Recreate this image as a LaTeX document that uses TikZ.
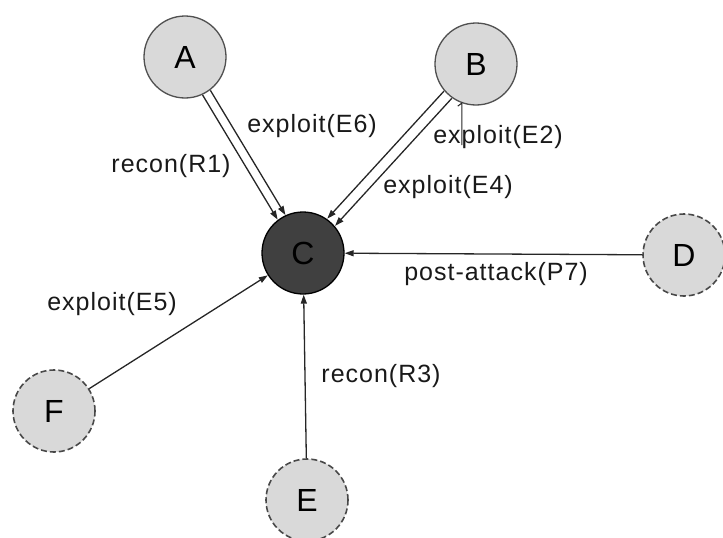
\documentclass[tikz,border=0pt]{standalone}
\usepackage{fontspec}
\setmainfont{Liberation Sans}
\newfontfamily\lblfont{Liberation Sans}[LetterSpace=4]
\usetikzlibrary{arrows.meta}
\definecolor{hostfill}{HTML}{D9D9D9}
\definecolor{hostline}{HTML}{505050}
\definecolor{targetfill}{HTML}{404040}
\definecolor{edgeline}{HTML}{262626}
\begin{document}
\begin{tikzpicture}[x=1pt,y=-1pt,host/.style={shape=circle,draw=hostline,fill=hostfill,line width=1.3pt,minimum size=82pt,inner sep=0pt,font=\fontsize{32}{36}\selectfont},hostU/.style={host,draw=hostline!90!black,line width=1.6pt,dash pattern=on 6pt off 3pt},hostT/.style={host,fill=targetfill,draw=black},attack/.style={draw=edgeline,line width=1.3pt,-{Triangle[length=9pt,width=6pt]}},lbl/.style={anchor=base,inner sep=0pt,text=black!90,font=\lblfont\fontsize{25}{30}\selectfont}]
\useasboundingbox (0,0) rectangle (723,538);

\node[host] (A) at (185,57) {A};
\node[host] (B) at (476,64) {B};
\node[hostT] (C) at (303,253) {C};
\node[hostU] (D) at (684,255) {D};
\node[hostU] (E) at (307,500) {E};
\node[hostU] (F) at (54,411) {F};

% double edges from A and B
\draw[attack,transform canvas={shift={(-3.9,2.3)}}] (A) -- (C);
\draw[attack,transform canvas={shift={(3.9,-2.3)}}] (A) -- (C);
\draw[attack,transform canvas={shift={(-3.9,-3.6)}}] (B) -- (C);
\draw[attack,transform canvas={shift={(3.9,3.6)}}] (B) -- (C);

\draw[attack] (D) -- (C);
\draw[attack] (E) -- (C);
\draw[attack] (F) -- (C);

\draw[edgeline,line width=1pt] ([shift={(-4,3)}]B.250) -- (B.250) -- ++(0,42);

\node[lbl] (R1) at (171,172) {recon(R1)};
\node[lbl] (E6) at (312,132) {exploit(E6)};
\node[lbl] (E2) at (498,143) {exploit(E2)};
\node[lbl] (E4) at (448,193) {exploit(E4)};
\node[lbl] (P7) at (496,280) {post-attack(P7)};
\node[lbl] (E5) at (112,310) {exploit(E5)};
\node[lbl] (R3) at (381,382) {recon(R3)};
\end{tikzpicture}
\end{document}
